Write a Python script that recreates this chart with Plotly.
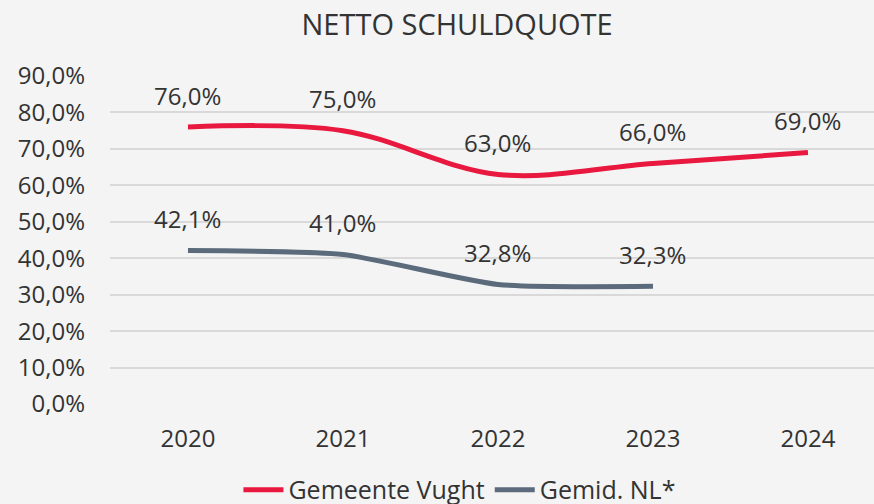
import plotly.graph_objects as go

years = [2020, 2021, 2022, 2023, 2024]
vught = [76.0, 75.0, 63.0, 66.0, 69.0]
nl_years = [2020, 2021, 2022, 2023]
nl = [42.1, 41.0, 32.8, 32.3]
y_ticks = [0, 10, 20, 30, 40, 50, 60, 70, 80, 90]
y_tick_labels = [f"{v:.1f}%".replace(".", ",") for v in y_ticks]

RED = "#e8183f"
GREY = "#5b6b7c"
TXT = "#333333"
FONT = "Open Sans"

fig = go.Figure()
fig.add_trace(go.Scatter(x=years, y=vught, mode="lines", name="Gemeente Vught",
                         line=dict(color=RED, width=5, shape="spline", smoothing=1.0)))
fig.add_trace(go.Scatter(x=nl_years, y=nl, mode="lines", name="Gemid. NL*",
                         line=dict(color=GREY, width=5, shape="spline", smoothing=0.6)))

for xs, ys in ((years, vught), (nl_years, nl)):
    for x, y in zip(xs, ys):
        fig.add_annotation(x=x, y=y, text=f"{y:.1f}%".replace(".", ","), showarrow=False,
                           yshift=32, font=dict(family=FONT, size=24, color=TXT))

fig.update_layout(
    width=874, height=504,
    paper_bgcolor="#f4f4f4", plot_bgcolor="rgba(0,0,0,0)",
    margin=dict(l=110, r=0, t=76, b=100, autoexpand=False),
    title=dict(text="NETTO SCHULDQUOTE", x=0.523, xanchor="center", y=0.95, yanchor="middle",
               font=dict(family=FONT, size=29, color=TXT)),
    font=dict(family=FONT, color=TXT),
    showlegend=True,
    legend=dict(orientation="h", x=0.458, xanchor="center", y=-0.262, yanchor="middle",
                font=dict(family=FONT, size=25, color=TXT), bgcolor="rgba(0,0,0,0)",
                itemwidth=40),
)
fig.update_xaxes(range=[2019.497, 2024.426], tickvals=years, ticktext=[str(y) for y in years],
                 showgrid=False, zeroline=False, showline=False, ticks="",
                 tickfont=dict(family=FONT, size=24, color=TXT), ticklabelstandoff=18)
fig.update_yaxes(range=[0, 90], tickvals=y_ticks, ticktext=y_tick_labels,
                 showgrid=True, gridcolor="#d9d9d9", gridwidth=2, zeroline=False, showline=False,
                 ticks="", tickfont=dict(family=FONT, size=24, color=TXT), ticklabelstandoff=24)

fig.write_html("out.html", config={"displayModeBar": False},
               post_script="document.body.style.margin='0';document.body.style.overflow='hidden';")
